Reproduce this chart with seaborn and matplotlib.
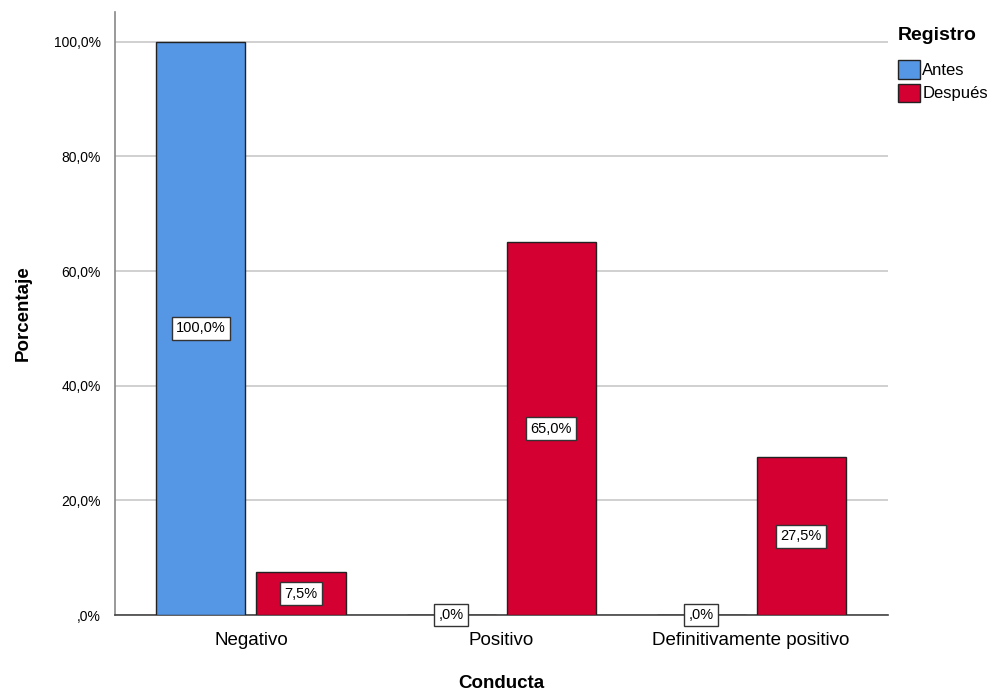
import matplotlib
matplotlib.use("Agg")
import matplotlib.pyplot as plt
import seaborn as sns
import pandas as pd
from matplotlib.ticker import FuncFormatter

categories = ["Negativo", "Positivo", "Definitivamente positivo"]
antes = [100.0, 0.0, 0.0]
despues = [7.5, 65.0, 27.5]
series_names = ["Antes", "Después"]
colors = ["#5596E5", "#D30031"]

df = pd.DataFrame({
    "Conducta": categories * 2,
    "Porcentaje": antes + despues,
    "Registro": [series_names[0]] * 3 + [series_names[1]] * 3,
})

sns.set_theme(style="white")
plt.rcParams["font.family"] = ["Liberation Sans", "DejaVu Sans"]
for k in ["text.color", "axes.labelcolor", "xtick.color", "ytick.color"]:
    plt.rcParams[k] = "black"

fig = plt.figure(figsize=(9.93, 6.94), dpi=100)
ax = fig.add_axes([0.1158, 0.1138, 0.7785, 0.8689])

sns.barplot(data=df, x="Conducta", y="Porcentaje", hue="Registro",
            palette=colors, saturation=1, gap=0.11, width=0.8,
            edgecolor="#222222", linewidth=1.0, ax=ax, zorder=3, legend=True)

ax.set_ylim(0, 105.2)
ax.set_xlim(-0.544, 2.548)
ax.set_yticks([0, 20, 40, 60, 80, 100])

def fmt(v):
    s = f"{v:.1f}%".replace(".", ",")
    return s[1:] if s.startswith("0") else s

ax.yaxis.set_major_formatter(FuncFormatter(lambda v, p: fmt(v)))
ax.grid(axis="y", color="#c8c8c8", linewidth=1.2, zorder=0)
ax.set_axisbelow(True)
ax.tick_params(axis="y", labelsize=10, length=0, pad=10)
ax.tick_params(axis="x", labelsize=13.5, length=0, pad=12)
for s in ["top", "right"]:
    ax.spines[s].set_visible(False)
ax.spines["left"].set_color("#888888")
ax.spines["left"].set_linewidth(1.2)
ax.spines["bottom"].set_color("#444444")
ax.spines["bottom"].set_linewidth(1.2)

ax.set_xlabel("Conducta", fontsize=13.5, fontweight="bold", labelpad=19)
ax.set_ylabel("Porcentaje", fontsize=13.5, fontweight="bold", labelpad=16)

for cont in ax.containers:
    for bar in cont:
        h = bar.get_height()
        ax.text(bar.get_x() + bar.get_width() / 2, h / 2, fmt(h),
                ha="center", va="center", fontsize=10.5, zorder=5,
                bbox=dict(boxstyle="square,pad=0.3", facecolor="white",
                          edgecolor="#333333", linewidth=1.0),
                clip_on=False)

leg = ax.legend(title="Registro", loc="upper left", bbox_to_anchor=(0.998, 0.995),
                frameon=False, fontsize=12, title_fontsize=14,
                handlelength=1.3, handleheight=1.3, handletextpad=0.15,
                labelspacing=0.3, borderaxespad=0.3)
leg.get_title().set_fontweight("bold")
leg._legend_box.align = "left"
leg._legend_box.sep = 12

fig.savefig("out.png", dpi=100)
